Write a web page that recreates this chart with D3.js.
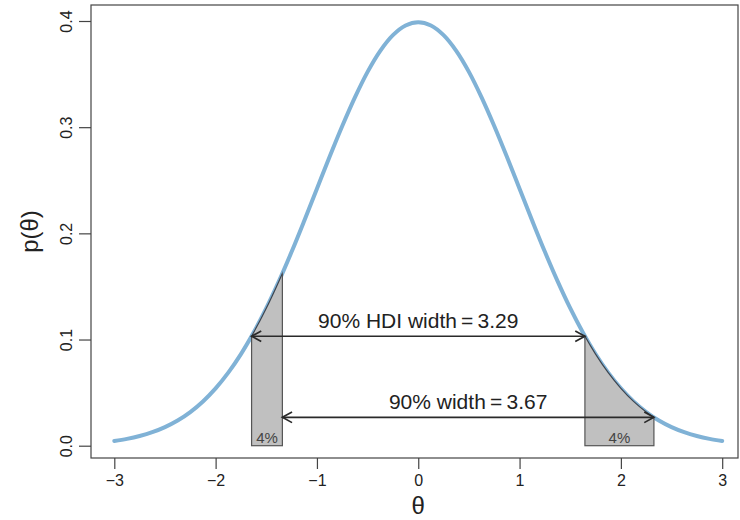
<!DOCTYPE html>
<html>
<head>
<meta charset="utf-8">
<script src="https://cdn.jsdelivr.net/npm/d3@7"></script>
<style>
  html, body { margin: 0; padding: 0; background: #fff; }
  svg text { font-family: "Liberation Sans", Arial, Helvetica, sans-serif; fill: #222; }
</style>
</head>
<body>
<svg id="chart" width="740" height="520"></svg>
<script>
// Standard normal density, sampled every 0.125
const theta = [-3, -2.875, -2.75, -2.625, -2.5, -2.375, -2.25, -2.125, -2, -1.875, -1.75, -1.625,
               -1.5, -1.375, -1.25, -1.125, -1, -0.875, -0.75, -0.625, -0.5, -0.375, -0.25, -0.125,
               0, 0.125, 0.25, 0.375, 0.5, 0.625, 0.75, 0.875, 1, 1.125, 1.25, 1.375,
               1.5, 1.625, 1.75, 1.875, 2, 2.125, 2.25, 2.375, 2.5, 2.625, 2.75, 2.875, 3];
const density = [0.0044, 0.0064, 0.0091, 0.0127, 0.0175, 0.0237, 0.0317, 0.0417, 0.0540, 0.0688,
                 0.0863, 0.1066, 0.1295, 0.1550, 0.1826, 0.2119, 0.2420, 0.2721, 0.3011, 0.3281,
                 0.3521, 0.3719, 0.3867, 0.3958, 0.3989, 0.3958, 0.3867, 0.3719, 0.3521, 0.3281,
                 0.3011, 0.2721, 0.2420, 0.2119, 0.1826, 0.1550, 0.1295, 0.1066, 0.0863, 0.0688,
                 0.0540, 0.0417, 0.0317, 0.0237, 0.0175, 0.0127, 0.0091, 0.0064, 0.0044];

// Intervals: 90% HDI and an alternative 90% interval
const intervalNames  = ["90% HDI width", "90% width"];
const intervalLow    = [-1.645, -1.341];
const intervalHigh   = [1.645, 2.326];
const intervalHeight = [0.1031, 0.0267];

// Shaded 4% slivers between the two intervals
const shadeLow    = [-1.645, 1.645];
const shadeHigh   = [-1.341, 2.326];
const shadeLabels = ["4%", "4%"];

const xTicks = [-3, -2, -1, 0, 1, 2, 3];
const yTicks = [0, 0.1, 0.2, 0.3, 0.4];

const svg = d3.select("#chart");
const box = { left: 91, right: 738, top: 5, bottom: 458 };

const x = d3.scaleLinear().domain([-3, 3]).range([114.3, 722.2]);
const y = d3.scaleLinear().domain([0, 0.4]).range([445.7, 21]);

const pts = theta.map((t, i) => [t, density[i]]);
const curve = d3.curveCatmullRom.alpha(0.5);

const line = d3.line().x(d => x(d[0])).y(d => y(d[1])).curve(curve);
const area = d3.area().x(d => x(d[0])).y0(y(0) + 3).y1(d => y(d[1])).curve(curve);

const defs = svg.append("defs");
defs.append("clipPath").attr("id", "under-curve")
  .append("path").attr("d", area(pts));

shadeLow.forEach((lo, i) => {
  defs.append("clipPath").attr("id", "shade-band-" + i)
    .append("rect")
    .attr("x", x(lo)).attr("y", 0)
    .attr("width", x(shadeHigh[i]) - x(lo)).attr("height", y(0));
});

// Plot frame
svg.append("rect")
  .attr("x", box.left).attr("y", box.top)
  .attr("width", box.right - box.left).attr("height", box.bottom - box.top)
  .attr("fill", "none").attr("stroke", "#444").attr("stroke-width", 1.2);

// Axes
const xAxis = svg.append("g")
  .attr("transform", `translate(0,${box.bottom})`)
  .call(d3.axisBottom(x).tickValues(xTicks).tickSize(11).tickPadding(6)
    .tickFormat(d => d < 0 ? "\u2212" + Math.abs(d) : d));
xAxis.select(".domain").remove();
xAxis.selectAll("line").attr("stroke", "#444").attr("stroke-width", 1.2);
xAxis.selectAll("text").attr("font-size", 16).style("fill", "#222");

const yAxis = svg.append("g")
  .attr("transform", `translate(${box.left},0)`)
  .call(d3.axisLeft(y).tickValues(yTicks).tickSize(12).tickFormat(d3.format(".1f")));
yAxis.select(".domain").remove();
yAxis.selectAll("line").attr("stroke", "#444").attr("stroke-width", 1.2);
yAxis.selectAll("text")
  .attr("font-size", 16).style("fill", "#222")
  .attr("x", 0).attr("dy", null)
  .attr("text-anchor", "middle")
  .attr("dominant-baseline", "central")
  .attr("transform", "translate(-25,0) rotate(-90)");

// Axis titles
svg.append("text")
  .attr("x", x(0)).attr("y", 514)
  .attr("text-anchor", "middle").attr("font-size", 24)
  .text("\u03b8");
svg.append("text")
  .attr("transform", `translate(38,${(box.top + box.bottom) / 2}) rotate(-90)`)
  .attr("text-anchor", "middle").attr("font-size", 24)
  .text("p(\u03b8)");

// Density curve
svg.append("path")
  .attr("d", line(pts))
  .attr("fill", "none")
  .attr("stroke", "#80b2d6")
  .attr("stroke-width", 4)
  .attr("stroke-linecap", "round");

// Shaded slivers under the curve
shadeLow.forEach((lo, i) => {
  const g = svg.append("g");
  g.append("g").attr("clip-path", "url(#under-curve)")
    .append("rect")
    .attr("x", x(lo)).attr("y", y(0.45))
    .attr("width", x(shadeHigh[i]) - x(lo)).attr("height", y(0) - y(0.45))
    .attr("fill", "#c0c0c0").attr("stroke", "#555").attr("stroke-width", 1.2);
  g.append("path")
    .attr("clip-path", `url(#shade-band-${i})`)
    .attr("d", line(pts))
    .attr("fill", "none").attr("stroke", "#3d4550").attr("stroke-width", 1.2);
  g.append("text")
    .attr("x", (x(lo) + x(shadeHigh[i])) / 2).attr("y", y(0) - 3)
    .attr("text-anchor", "middle").attr("font-size", 15)
    .style("fill", "#444")
    .text(shadeLabels[i]);
});

// Width arrows with open heads
const head = 11, spread = 0.5;
intervalLow.forEach((lo, i) => {
  const hi = intervalHigh[i];
  const x0 = x(lo), x1 = x(hi), yy = y(intervalHeight[i]);
  const g = svg.append("g").attr("stroke", "#2a2a2a").attr("stroke-width", 1.7).attr("fill", "none");
  g.append("line").attr("x1", x0).attr("x2", x1).attr("y1", yy).attr("y2", yy);
  const dx = head * Math.cos(spread), dy = head * Math.sin(spread);
  g.append("path").attr("d", `M${x0 + dx},${yy - dy}L${x0},${yy}L${x0 + dx},${yy + dy}`);
  g.append("path").attr("d", `M${x1 - dx},${yy - dy}L${x1},${yy}L${x1 - dx},${yy + dy}`);
  svg.append("text")
    .attr("x", (x0 + x1) / 2).attr("y", yy - 8)
    .attr("text-anchor", "middle").attr("font-size", 21)
    .text(`${intervalNames[i]}\u2009=\u2009${(hi - lo).toFixed(2)}`);
});
</script>
</body>
</html>
